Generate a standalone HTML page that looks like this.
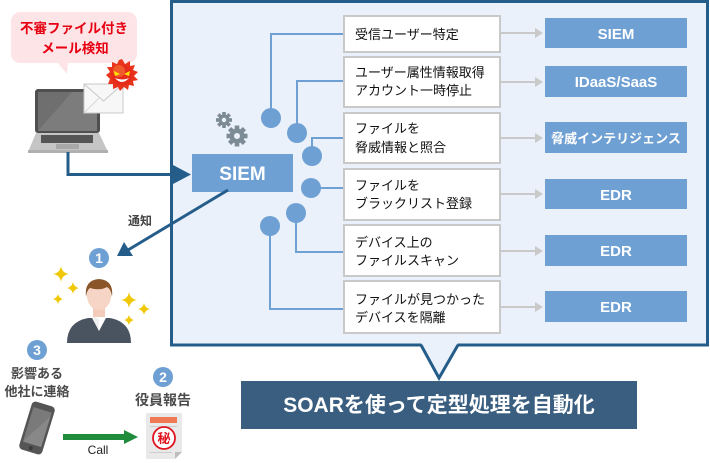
<!DOCTYPE html>
<html><head><meta charset="utf-8">
<style>
html,body{margin:0;padding:0;background:#fff;}
svg{display:block;}
text{font-family:"Liberation Sans","Noto Sans CJK JP",sans-serif;}
.j{font-family:"Liberation Sans","Noto Sans CJK JP",sans-serif;}
</style></head>
<body>
<svg width="710" height="463" viewBox="0 0 710 463" xmlns="http://www.w3.org/2000/svg">
<!-- main box -->
<rect x="171.5" y="1.5" width="536" height="343.5" fill="#ebf1fa" stroke="#255d8a" stroke-width="3"/>
<!-- callout tail -->
<polygon points="421,343 439,378 458,343" fill="#ebf1fa"/>
<polyline points="421,345 439,378 458,345" fill="none" stroke="#255d8a" stroke-width="3"/>
<!-- SOAR banner -->
<rect x="241" y="381" width="396" height="48" fill="#3a5e80"/>
<text x="439" y="412" text-anchor="middle" font-size="21" font-weight="bold" fill="#fff">SOARを使って定型処理を自動化</text>

<!-- connectors blue -->
<g stroke="#6fa0d4" stroke-width="2" fill="none">
<polyline points="271,118 271,34 343,34"/>
<polyline points="297,133 297,81 343,81"/>
<polyline points="312,156 312,138 343,138"/>
<polyline points="311,188 343,188"/>
<polyline points="296,213 296,252 343,252"/>
<polyline points="270,226 270,309 343,309"/>
</g>
<g fill="#6fa0d4">
<circle cx="271" cy="118" r="10"/>
<circle cx="297" cy="133" r="10"/>
<circle cx="312" cy="156" r="10"/>
<circle cx="311" cy="188" r="10"/>
<circle cx="296" cy="213" r="10"/>
<circle cx="270" cy="226" r="10"/>
</g>

<!-- gears -->
<g fill="#7d8b96">
<g transform="translate(224,120)">
<circle r="5.5"/>
<g><rect x="-1.8" y="-8" width="3.6" height="16"/><rect x="-1.8" y="-8" width="3.6" height="16" transform="rotate(45)"/><rect x="-1.8" y="-8" width="3.6" height="16" transform="rotate(90)"/><rect x="-1.8" y="-8" width="3.6" height="16" transform="rotate(135)"/></g>
<circle r="2.2" fill="#ebf1fa"/>
</g>
<g transform="translate(237,136)">
<circle r="7.5"/>
<g><rect x="-2.3" y="-10.5" width="4.6" height="21"/><rect x="-2.3" y="-10.5" width="4.6" height="21" transform="rotate(45)"/><rect x="-2.3" y="-10.5" width="4.6" height="21" transform="rotate(90)"/><rect x="-2.3" y="-10.5" width="4.6" height="21" transform="rotate(135)"/></g>
<circle r="3" fill="#ebf1fa"/>
</g>
</g>

<!-- SIEM box -->
<rect x="192" y="154" width="101" height="38" fill="#6fa0d4"/>
<text x="242.5" y="180" text-anchor="middle" font-size="19" font-weight="bold" fill="#fff">SIEM</text>

<!-- middle boxes -->
<g fill="#fff" stroke="#c9c9c9" stroke-width="2">
<rect x="344" y="16" width="156" height="36"/>
<rect x="344" y="57" width="156" height="50"/>
<rect x="344" y="113" width="156" height="50"/>
<rect x="344" y="169" width="156" height="51"/>
<rect x="344" y="225" width="156" height="51"/>
<rect x="344" y="281" width="156" height="52"/>
</g>
<g font-size="13" fill="#111">
<text x="355" y="39">受信ユーザー特定</text>
<text x="355" y="77">ユーザー属性情報取得</text>
<text x="355" y="95">アカウント一時停止</text>
<text x="355" y="133">ファイルを</text>
<text x="355" y="152">脅威情報と照合</text>
<text x="355" y="190">ファイルを</text>
<text x="355" y="208">ブラックリスト登録</text>
<text x="355" y="247">デバイス上の</text>
<text x="355" y="265">ファイルスキャン</text>
<text x="355" y="304">ファイルが見つかった</text>
<text x="355" y="322">デバイスを隔離</text>
</g>

<!-- gray arrows -->
<g stroke="#c9c9c9" stroke-width="2">
<line x1="501" y1="33" x2="536" y2="33"/>
<line x1="501" y1="82" x2="536" y2="82"/>
<line x1="501" y1="138" x2="536" y2="138"/>
<line x1="501" y1="194" x2="536" y2="194"/>
<line x1="501" y1="251" x2="536" y2="251"/>
<line x1="501" y1="307" x2="536" y2="307"/>
</g>
<g fill="#c9c9c9">
<polygon points="535,28 543,33 535,38"/>
<polygon points="535,77 543,82 535,87"/>
<polygon points="535,133 543,138 535,143"/>
<polygon points="535,189 543,194 535,199"/>
<polygon points="535,246 543,251 535,256"/>
<polygon points="535,302 543,307 535,312"/>
</g>

<!-- right blue boxes -->
<g fill="#6fa0d4">
<rect x="545" y="18" width="142" height="30"/>
<rect x="545" y="66" width="142" height="31"/>
<rect x="545" y="122" width="142" height="31"/>
<rect x="545" y="179" width="142" height="30"/>
<rect x="545" y="235" width="142" height="31"/>
<rect x="545" y="291" width="142" height="31"/>
</g>
<g fill="#fff" font-weight="bold" text-anchor="middle">
<text x="616" y="39" font-size="15">SIEM</text>
<text x="616" y="87" font-size="15">IDaaS/SaaS</text>
<text x="616" y="143" font-size="13">脅威インテリジェンス</text>
<text x="616" y="200" font-size="15">EDR</text>
<text x="616" y="256" font-size="15">EDR</text>
<text x="616" y="312" font-size="15">EDR</text>
</g>

<!-- speech bubble -->
<rect x="11" y="12" width="126" height="51" rx="9" fill="#fde5e7"/>
<polygon points="57,62 68,62 67,74" fill="#fde5e7"/>
<text x="74" y="33" text-anchor="middle" font-size="13.5" font-weight="bold" fill="#e60012">不審ファイル付き</text>
<text x="75" y="53" text-anchor="middle" font-size="13.5" font-weight="bold" fill="#e60012">メール検知</text>

<!-- laptop -->
<rect x="35" y="89" width="65" height="44" rx="3" fill="#4f4f4f"/>
<rect x="38" y="92" width="59" height="39" fill="#6f6f6f"/>
<polygon points="38,131 72,92 97,92 97,131" fill="#7c7c7c"/>
<polygon points="36,133 99,133 108,152 28,152" fill="#c5c5c5"/>
<rect x="28" y="150" width="80" height="3" fill="#b0b0b0"/>
<rect x="41" y="135" width="52" height="8" fill="#555"/>
<rect x="56" y="144" width="23" height="5" fill="#a8a8a8"/>
<!-- envelope -->
<rect x="84" y="84" width="39" height="29" fill="#f7f7f7" stroke="#c8c8c8" stroke-width="1"/>
<polyline points="84,84 103.5,101 123,84" fill="none" stroke="#c8c8c8" stroke-width="1"/>
<polyline points="84,113 99,98 M108,98 123,113" fill="none" stroke="#d8d8d8" stroke-width="1"/>
<!-- virus -->
<g transform="translate(122,75)">
<polygon fill="#e8341c" points="0,-16 3,-11 8,-14 8,-9 13,-10 11,-5 16,-3 12,1 16,5 11,6 12,11 7,10 6,15 2,12 -2,16 -4,12 -9,14 -9,9 -14,9 -12,4 -16,0 -12,-3 -15,-8 -10,-8 -10,-13 -5,-11 -3,-15"/>
<circle r="10.5" fill="#e62b1a"/>
<circle cx="-3" cy="-4" r="6" fill="#f05a2a"/>
<polygon points="-8,-4 -2,-1 -7,1" fill="#ffe600"/>
<polygon points="8,-4 2,-1 7,1" fill="#ffe600"/>
<path d="M-7,3 Q0,11 7,3 Q0,6 -7,3Z" fill="#fff"/>
</g>

<!-- laptop -> SIEM arrow -->
<polyline points="68,152 68,174.5 176,174.5" fill="none" stroke="#255d8a" stroke-width="3"/>
<polygon points="173,165 191,174.5 173,184" fill="#255d8a"/>

<!-- notify arrow -->
<line x1="228" y1="190" x2="128" y2="250" stroke="#255d8a" stroke-width="3"/>
<polygon points="117,256 124,242 133,256" fill="#255d8a"/>
<text x="140" y="225" text-anchor="middle" font-size="12" font-weight="bold" fill="#444">通知</text>

<!-- numbered circles -->
<g font-weight="bold" fill="#fff" text-anchor="middle" font-size="14">
<circle cx="99" cy="258" r="10" fill="#6fa0d4"/><text x="99" y="263">1</text>
<circle cx="37" cy="350" r="10" fill="#6fa0d4"/><text x="37" y="355">3</text>
<circle cx="163" cy="377" r="10" fill="#6fa0d4"/><text x="163" y="382">2</text>
</g>

<!-- sparkles -->
<g fill="#f0c808">
<path d="M61,266 Q62,273 69,274 Q62,275 61,282 Q60,275 53,274 Q60,273 61,266Z"/>
<path d="M73,282 Q74,287 79,288 Q74,289 73,294 Q72,289 67,288 Q72,287 73,282Z"/>
<path d="M58,294 Q59,298 63,299 Q59,300 58,304 Q57,300 53,299 Q57,298 58,294Z"/>
<path d="M129,292 Q130,299 137,300 Q130,301 129,308 Q128,301 121,300 Q128,299 129,292Z"/>
<path d="M144,303 Q145,308 150,309 Q145,310 144,315 Q143,310 138,309 Q143,308 144,303Z"/>
<path d="M129,315 Q130,319 134,320 Q130,321 129,325 Q128,321 124,320 Q128,319 129,315Z"/>
</g>

<!-- person -->
<path d="M67,343 Q67,322 88,318 L110,318 Q131,322 131,343Z" fill="#4a5461"/>
<polygon points="91,316 99,331 107,316" fill="#fff"/>
<polygon points="92,316 99,331 99,319" fill="#eee"/>
<rect x="93" y="305" width="12" height="12" fill="#f3cbbb"/>
<ellipse cx="99" cy="296" rx="12" ry="14" fill="#f7d5c6"/>
<path d="M86,297 Q84,280 99,279 Q114,280 112,297 Q111,289 107,287 Q100,291 90,288 Q87,290 86,297Z" fill="#8a5529"/>

<!-- 3 texts -->
<text x="37" y="378" text-anchor="middle" font-size="13" font-weight="bold" fill="#4a4a4a">影響ある</text>
<text x="37" y="396" text-anchor="middle" font-size="13" font-weight="bold" fill="#4a4a4a">他社に連絡</text>
<!-- phone -->
<g transform="rotate(17 37 428)">
<rect x="25" y="403" width="24" height="50" rx="4" fill="#555"/>
<rect x="27.5" y="409" width="19" height="36" fill="#7a7a7a"/>
<polygon points="27.5,445 46.5,413 46.5,445" fill="#888"/>
<circle cx="37" cy="449" r="2" fill="#3a3a3a"/>
</g>

<!-- 2 texts -->
<text x="163" y="405" text-anchor="middle" font-size="14" font-weight="bold" fill="#4a4a4a">役員報告</text>
<!-- document -->
<polygon points="146,413 182,413 182,452 175,459 146,459" fill="#e9e9e9"/>
<polygon points="175,459 182,452 175,452" fill="#bdbdbd"/>
<rect x="150" y="417" width="27" height="6" fill="#ef7a53"/>
<rect x="150" y="426" width="27" height="1" fill="#ccc"/>
<rect x="150" y="452" width="22" height="1" fill="#ccc"/>
<circle cx="164" cy="438" r="11" fill="#fff" stroke="#e0141e" stroke-width="1.8"/>
<text x="164" y="443" text-anchor="middle" font-size="13" font-weight="bold" fill="#e0141e">秘</text>

<!-- green arrow -->
<rect x="63" y="434" width="64" height="6" fill="#1f8c3c"/>
<polygon points="124,430 138,437 124,444" fill="#1f8c3c"/>
<text x="98" y="454" text-anchor="middle" font-size="12" fill="#222">Call</text>
</svg>
</body></html>
